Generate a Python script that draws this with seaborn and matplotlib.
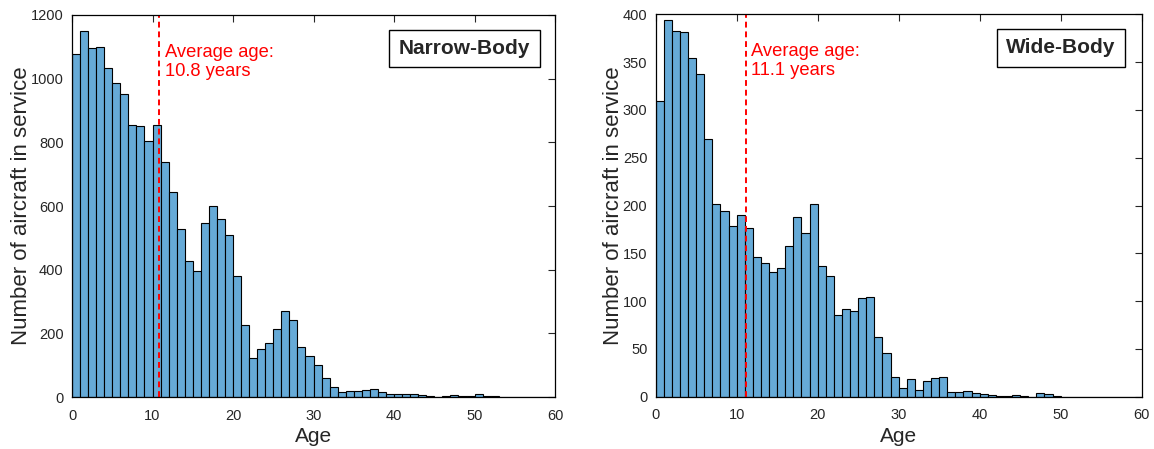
"""Aircraft fleet age histograms: narrow-body vs wide-body."""

import matplotlib.pyplot as plt
import numpy as np
import pandas as pd
import seaborn as sns

sns.set_theme(style="white")
plt.rcParams["font.family"] = ["Liberation Sans", "DejaVu Sans"]

AGES = np.arange(0, 60) + 0.5  # bin centres, one-year bins

NARROW_COUNTS = [
    1076, 1151, 1097, 1099, 1034, 985, 952, 855, 852, 805,
    854, 739, 645, 527, 427, 397, 548, 600, 560, 510,
    380, 225, 121, 152, 171, 213, 269, 241, 158, 129,
    100, 60, 31, 16, 19, 19, 21, 26, 16, 10,
    9, 9, 9, 6, 4, 1, 2, 5, 4, 3,
    10, 3, 3, 1, 0, 0, 0, 0, 1, 0,
]
WIDE_COUNTS = [
    309, 394, 383, 381, 354, 338, 270, 202, 194, 179,
    190, 176, 146, 140, 130, 135, 158, 188, 171, 202,
    137, 126, 85, 92, 90, 103, 104, 62, 46, 21,
    9, 18, 7, 16, 20, 21, 4.5, 5, 6, 3.5,
    2.4, 1.4, 1, 1, 2, 1, 0, 3.5, 2.4, 1,
    0, 0, 0, 0, 0, 0, 0, 0, 0, 0,
]
MEAN_AGES = [10.8, 11.1]
LABELS = ["Narrow-Body", "Wide-Body"]
Y_MAX = [1200, 400]
Y_STEP = [200, 50]

BAR_COLOR = "#66AAD7"
TICK_COLOR = "#262626"

fig = plt.figure(figsize=(11.54, 4.49), dpi=100)
axes = [
    fig.add_axes([0.0624, 0.1158, 0.4186, 0.8508]),
    fig.add_axes([0.5682, 0.1165, 0.4211, 0.8516]),
]

for ax, counts, mean, label, ymax, ystep, box_x in zip(
    axes, [NARROW_COUNTS, WIDE_COUNTS], MEAN_AGES, LABELS, Y_MAX, Y_STEP, [0.8126, 0.8335]
):
    df = pd.DataFrame({"age": AGES, "count": counts})
    sns.histplot(
        data=df, x="age", weights="count", binwidth=1, binrange=(0, 60), ax=ax,
        color=BAR_COLOR, alpha=1, edgecolor="black", linewidth=0.8,
    )
    ax.axvline(mean, color="red", linestyle=(0, (3, 2)), linewidth=1.4)
    ax.text(mean + 0.7, 0.925, f"Average age:\n{mean} years", color="red",
            fontsize=13.2, va="top", ha="left", linespacing=1.15,
            transform=ax.get_xaxis_transform())
    ax.text(box_x, 0.912, label, transform=ax.transAxes, ha="center", va="center",
            fontsize=15, fontweight="bold",
            bbox=dict(boxstyle="square,pad=0.45", facecolor="white", edgecolor="black", linewidth=1))

    ax.set_xlim(0, 60)
    ax.set_ylim(0, ymax)
    ax.set_xticks(np.arange(0, 61, 10))
    ax.set_yticks(np.arange(0, ymax + 1, ystep))
    ax.tick_params(direction="in", top=True, right=True, length=5, width=0.8,
                   labelsize=10.5, labelcolor=TICK_COLOR)
    ax.tick_params(axis="x", pad=8.5)
    ax.tick_params(axis="y", pad=6)
    for spine in ax.spines.values():
        spine.set_color("black")
        spine.set_linewidth(0.9)
    ax.set_xlabel("Age", fontsize=15, labelpad=3)
    ax.set_ylabel("Number of aircraft in service", fontsize=16, labelpad=-1)

plt.savefig("out.png", dpi=100)
plt.close()
